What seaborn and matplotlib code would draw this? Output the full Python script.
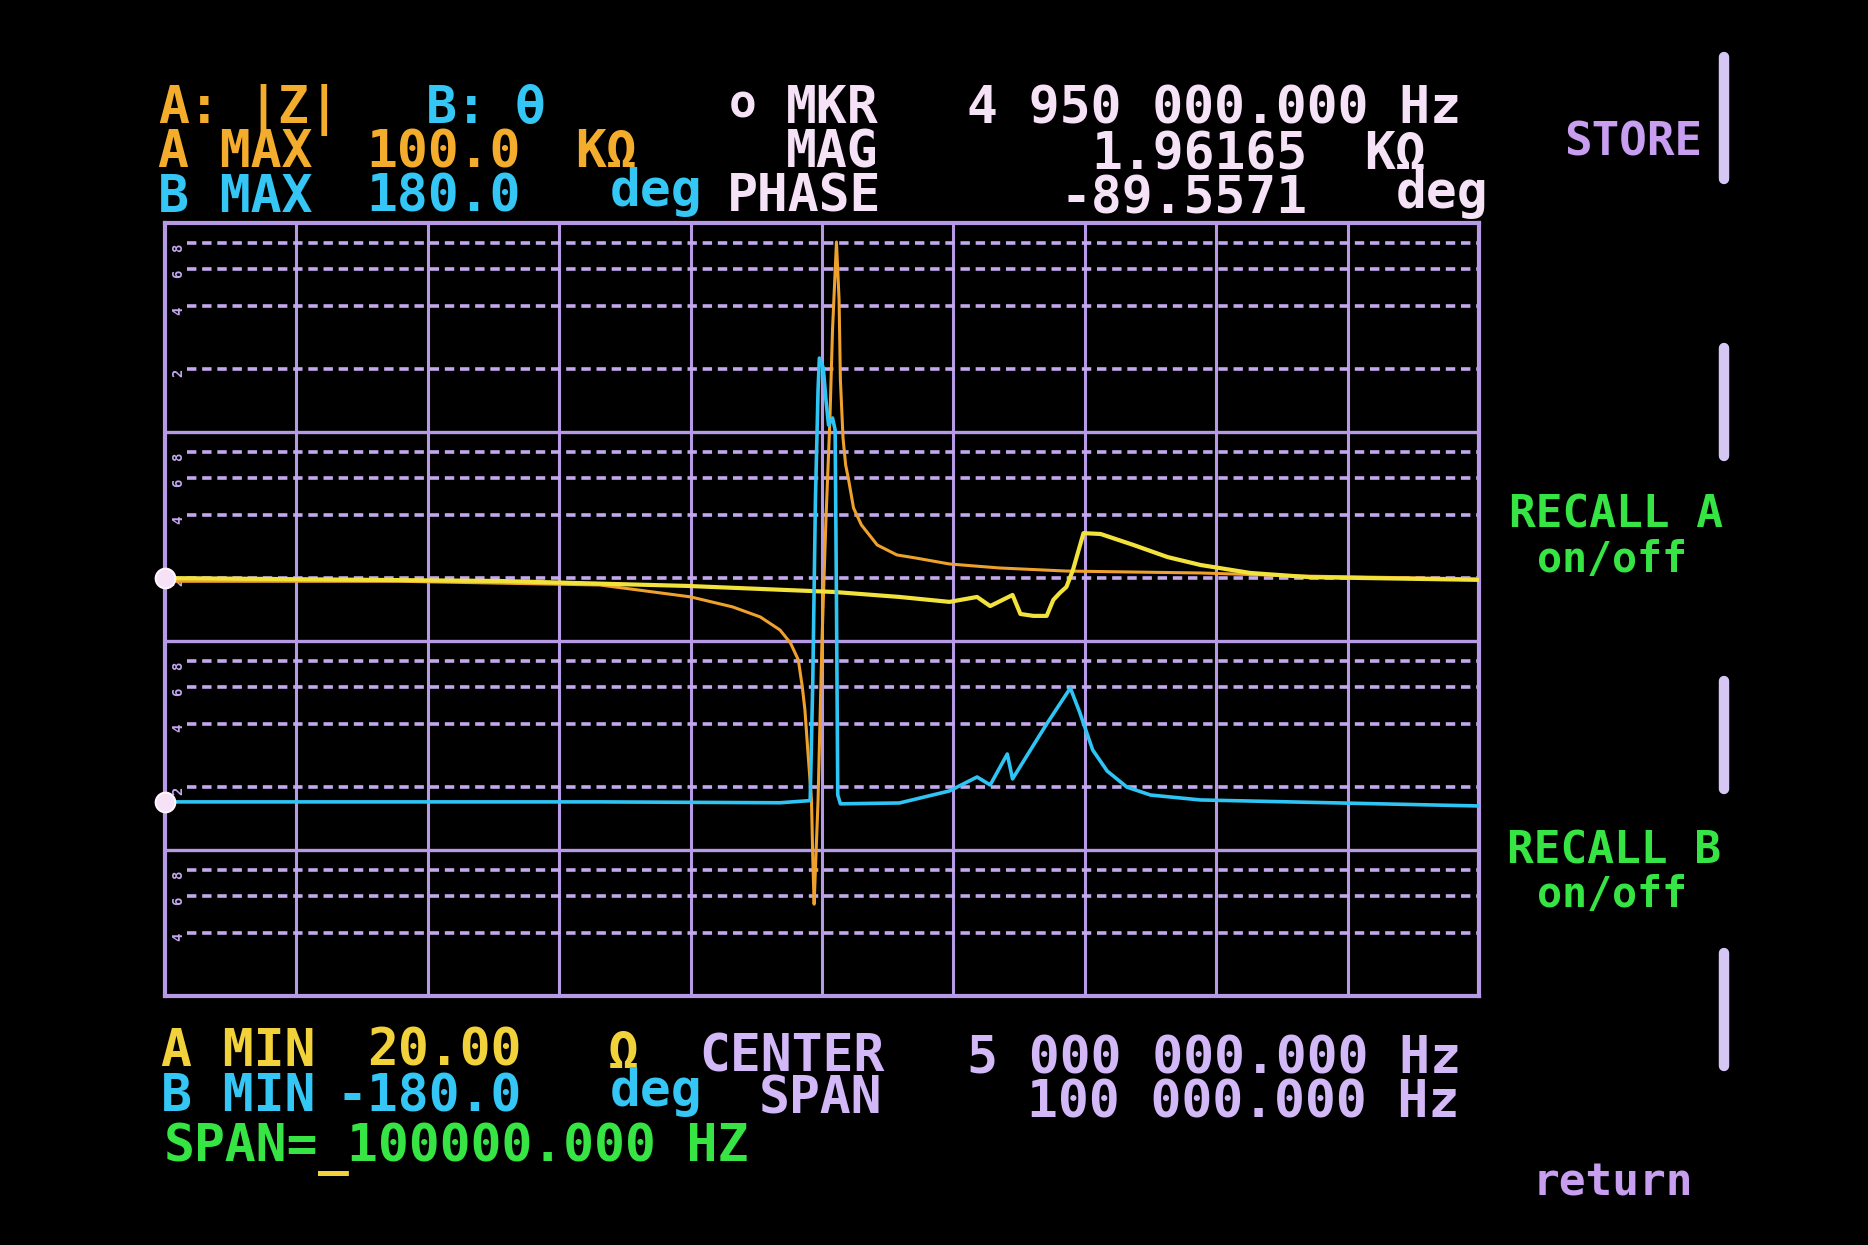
import matplotlib
matplotlib.use("Agg")
import matplotlib.pyplot as plt
import seaborn as sns
from matplotlib.lines import Line2D

# Trace A (stored, orange): |Z| in ohm vs frequency in kHz
freq_a_stored = [4950.0, 4967.9, 4983.1, 4990.0, 4993.2, 4995.3, 4996.8, 4997.6, 4998.2,
                 4998.5, 4998.7, 4998.9, 4999.2, 4999.3, 4999.4, 4999.7, 5000.0, 5000.3,
                 5000.6, 5000.8, 5001.1, 5001.3, 5001.4, 5001.6, 5001.8, 5002.0, 5002.4,
                 5003.0, 5004.2, 5005.7, 5007.2, 5009.7, 5013.5, 5018.6, 5028.8, 5036.4, 5050.0]
mag_a_stored = [1930, 1930, 1853, 1625, 1455, 1303, 1129, 978, 811,
                603, 468, 311, 173, 90, 55, 173, 1011, 3793,
                11400, 30760, 81100, 42840, 17740, 9360, 6950, 6020, 4330,
                3590, 2880, 2580, 2490, 2335, 2235, 2160, 2115, 2045, 1980]

# Trace A (live, yellow)
freq_a_live = [4950.0, 4975.5, 4989.7, 4995.3, 5000.9, 5005.9, 5009.7, 5011.8, 5012.8,
               5014.5, 5015.1, 5016.1, 5017.1, 5017.6, 5018.1, 5018.6, 5019.1, 5019.9,
               5021.2, 5023.7, 5026.3, 5028.8, 5032.6, 5037.1, 5050.0]
mag_a_live = [2000, 1936, 1834, 1774, 1716, 1624, 1538, 1624, 1469,
              1660, 1346, 1318, 1318, 1571, 1698, 1813, 2187, 3280,
              3250, 2880, 2520, 2310, 2115, 2020, 1960]

# Trace B (cyan): phase in degrees
freq_b = [4950.0, 4983.1, 4996.8, 4999.1, 4999.3, 4999.5, 4999.7, 4999.8, 5000.1,
          5000.3, 5000.5, 5000.8, 5001.0, 5001.1, 5001.2, 5001.4, 5005.9, 5009.7,
          5011.8, 5012.8, 5014.1, 5014.5, 5016.1, 5017.1, 5018.1, 5018.9, 5019.6,
          5020.6, 5021.7, 5023.2, 5025.0, 5028.8, 5050.0]
phase_b = [-89.6, -89.6, -90.0, -89.0, -32.8, 51.0, 102.2, 117.1, 112.5,
           97.6, 85.9, 89.2, 83.6, 4.4, -86.4, -90.5, -90.1, -84.5,
           -78.0, -81.7, -67.3, -78.9, -63.1, -53.3, -44.0, -36.6, -47.7,
           -65.4, -75.2, -82.7, -86.4, -88.7, -91.5]

center_khz = 5000.0
span_khz = 100.0
a_min, a_max = 20.0, 100000.0
b_min, b_max = -180.0, 180.0
decade_lines = [100, 1000, 10000]
minor_lines = [40, 60, 80, 200, 400, 600, 800, 2000, 4000, 6000, 8000,
               20000, 40000, 60000, 80000]
minor_labels = ["4", "6", "8", "2", "4", "6", "8", "2", "4", "6", "8",
                "2", "4", "6", "8"]

# ---------------- styling ----------------
sns.set_theme(style="dark", rc={"axes.facecolor": "black", "figure.facecolor": "black",
                                "savefig.facecolor": "black"})
MONO = ["DejaVu Sans Mono", "DejaVu Sans"]
plt.rcParams["font.family"] = MONO

W, H = 1868, 1245
fig = plt.figure(figsize=(W / 100, H / 100), dpi=100)

GRID = "#b79ae6"
DOT = "#c4a8ee"
ORANGE = "#eea12c"
YELLOW = "#f2e23c"
CYAN = "#2ec4f4"
PINKW = "#f6e2f6"
LAV = "#d2b8f6"
PURP = "#c89ef0"
GREEN = "#36e444"
ATXT = "#f4ac2c"
ATXT2 = "#f2d23a"
BTXT = "#34c6f4"

left, right, top, bottom = 165, 1479, 223, 996
ax = fig.add_axes([left / W, 1 - bottom / H, (right - left) / W, (bottom - top) / H])
ax.set_facecolor("black")
ax.set_yscale("log")
ax.set_xlim(center_khz - span_khz / 2, center_khz + span_khz / 2)
ax.set_ylim(a_min, a_max)
ax2 = ax.twinx()
ax2.set_ylim(b_min, b_max)
ax2.patch.set_visible(False)

for a in (ax, ax2):
    a.set_xticks([])
    a.set_yticks([])
    a.minorticks_off()
    a.tick_params(which="both", left=False, right=False, bottom=False, top=False,
                  labelleft=False, labelright=False, labelbottom=False)
    a.grid(False)
ax.yaxis.set_minor_locator(matplotlib.ticker.NullLocator())
ax2.yaxis.set_minor_locator(matplotlib.ticker.NullLocator())

for s in ax.spines.values():
    s.set_color(GRID)
    s.set_linewidth(3.0)
    s.set_visible(True)
for s in ax2.spines.values():
    s.set_visible(False)

# grid
x0 = center_khz - span_khz / 2
for k in range(1, 10):
    ax.axvline(x0 + k * span_khz / 10, color=GRID, lw=2.2, zorder=1)
for d in decade_lines:
    ax.axhline(d, color=GRID, lw=2.4, zorder=1)
ax.hlines(minor_lines, x0 + 1.7, x0 + span_khz, colors=DOT, lw=2.6,
          linestyles=[(0, (2.6, 1.6))], zorder=1)
for m, lab in zip(minor_lines, minor_labels):
    ax.text(x0 + 0.45, m, lab, rotation=90, ha="left", va="top", fontsize=10,
            color=DOT, fontweight="bold")

# traces
sns.lineplot(x=freq_a_stored, y=mag_a_stored, ax=ax, color=ORANGE, linewidth=2.2,
             estimator=None, sort=False, zorder=3)
sns.lineplot(x=freq_a_live, y=mag_a_live, ax=ax, color=YELLOW, linewidth=3.0,
             estimator=None, sort=False, zorder=4)
sns.lineplot(x=freq_b, y=phase_b, ax=ax2, color=CYAN, linewidth=2.6,
             estimator=None, sort=False, zorder=4)
ax.set_xlabel(""); ax.set_ylabel(""); ax2.set_ylabel("")
ax.set_xlim(center_khz - span_khz / 2, center_khz + span_khz / 2)
ax.set_ylim(a_min, a_max)
ax2.set_ylim(b_min, b_max)

# reference markers at left edge
ax.scatter([freq_a_live[0]], [mag_a_live[0]], s=200, color=PINKW, zorder=6, clip_on=False,
           edgecolors="#fff4ff", linewidths=1.5)
ax2.scatter([freq_b[0]], [phase_b[0]], s=200, color=PINKW, zorder=6, clip_on=False,
            edgecolors="#fff4ff", linewidths=1.5)


def t(x, y, s, color, size=37, weight="bold"):
    fig.text(x / W, 1 - y / H, s, color=color, fontsize=size, fontweight=weight,
             ha="left", va="baseline", family=MONO)


# header rows
t(158, 123, "A:", ATXT)
t(247, 123, "|Z|", ATXT)
t(426, 123, "B:", BTXT)
t(515, 123, "θ", BTXT)
t(729, 118, "o", PINKW, size=33)
t(786, 123, "MKR", PINKW)
t(967, 123, "4 950 000.000 Hz", PINKW)

t(158, 167, "A MAX", ATXT)
t(366, 167, "100.0", ATXT)
t(575, 167, "KΩ", ATXT)
t(786, 167, "MAG", PINKW)
t(1091, 169, "1.96165", PINKW)
t(1364, 169, "KΩ", PINKW)

t(158, 212, "B MAX", BTXT)
t(366, 212, "180.0", BTXT)
t(610, 206, "deg", BTXT)
t(727, 212, "PHASE", PINKW)
t(1060, 214, "-89.5571", PINKW)
t(1396, 208, "deg", PINKW)

# footer rows
t(161, 1066, "A MIN", ATXT2)
t(367, 1066, "20.00", ATXT2)
t(608, 1068, "Ω", ATXT2)
t(699, 1072, "CENTER", LAV)
t(967, 1073, "5 000 000.000 Hz", LAV)

t(161, 1111, "B MIN", BTXT)
t(336, 1111, "-180.0", BTXT)
t(610, 1106, "deg", BTXT)
t(759, 1114, "SPAN", LAV)
t(1027, 1118, "100 000.000 Hz", LAV)

t(164, 1161, "SPAN=", GREEN)
t(318, 1164, "_", ATXT2)
t(347, 1161, "100000.000 HZ", GREEN)

# soft keys
t(1564, 155, "STORE", PURP, size=33)
t(1509, 528, "RECALL A", GREEN, size=32)
t(1537, 572, "on/off", GREEN, size=30)
t(1507, 863, "RECALL B", GREEN, size=32)
t(1537, 907, "on/off", GREEN, size=30)
t(1533, 1195, "return", PURP, size=32)

for y1, y2 in [(57, 179), (348, 456), (681, 789), (953, 1066)]:
    fig.add_artist(Line2D([1724 / W, 1724 / W], [1 - y1 / H, 1 - y2 / H],
                          transform=fig.transFigure, color="#d6c6f4", lw=7.5,
                          solid_capstyle="round"))

fig.savefig("out.png", dpi=100, facecolor="black")
